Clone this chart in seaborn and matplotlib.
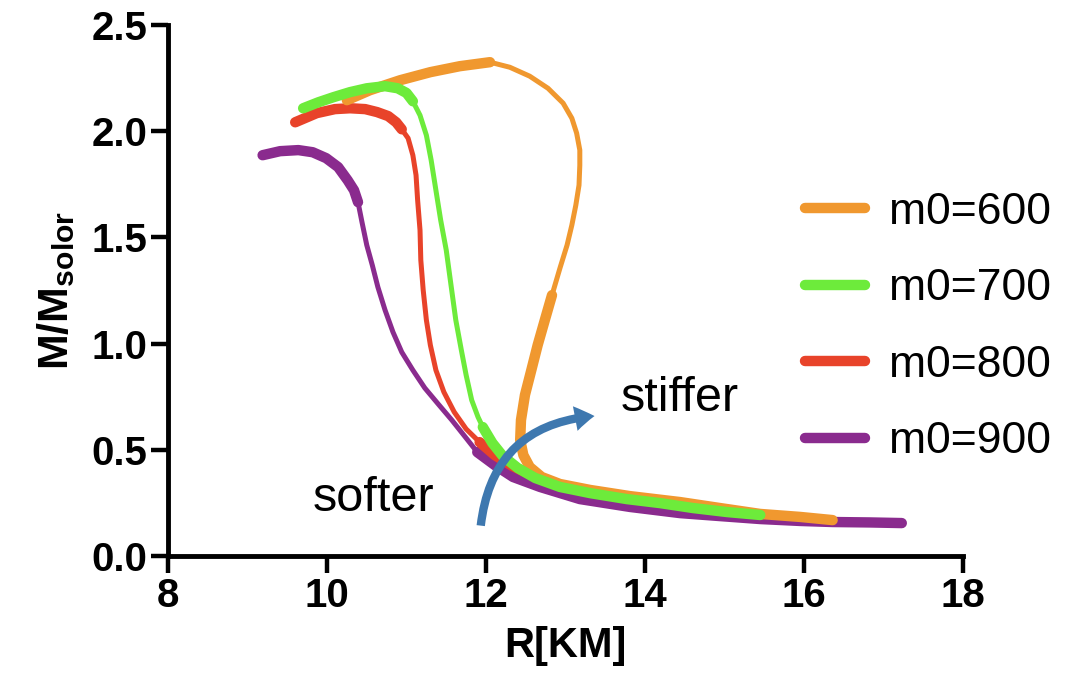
import numpy as np
import pandas as pd
import seaborn as sns
import matplotlib
matplotlib.use("Agg")
import matplotlib.pyplot as plt
from matplotlib.lines import Line2D
from matplotlib.patches import FancyArrowPatch

sns.set_theme(style="ticks")
plt.rcParams['font.family'] = ['Liberation Sans', 'DejaVu Sans']
plt.rcParams['mathtext.fontset'] = 'custom'
plt.rcParams['mathtext.bf'] = 'Liberation Sans:bold'
plt.rcParams['mathtext.rm'] = 'Liberation Sans:bold'
for k in ['text.color', 'axes.labelcolor', 'xtick.color', 'ytick.color', 'axes.edgecolor']:
    plt.rcParams[k] = 'black'

# ---- data ----
labels = ["m0=600", "m0=700", "m0=800", "m0=900"]
colors = {"m0=600": "#F0982F", "m0=700": "#6DEB3B", "m0=800": "#E8432A", "m0=900": "#8A2B8E"}

# each series: three branches (upper thick, middle thin, lower thick)
orange_top_R = [10.25, 10.54, 10.92, 11.30, 11.67, 12.05]
orange_top_M = [2.146, 2.193, 2.24, 2.278, 2.306, 2.325]
orange_mid_R = [12.05, 12.30, 12.55, 12.78, 12.97, 13.08, 13.14, 13.18, 13.18, 13.17, 13.13, 13.08, 13.02, 12.93, 12.83]
orange_mid_M = [2.325, 2.301, 2.259, 2.202, 2.132, 2.061, 1.991, 1.911, 1.840, 1.746, 1.652, 1.558, 1.464, 1.355, 1.228]
orange_low_R = [12.83, 12.74, 12.65, 12.57, 12.49, 12.44, 12.43, 12.47, 12.55, 12.70, 12.93, 13.31, 13.81, 14.44, 14.94, 15.45, 15.95, 16.36]
orange_low_M = [1.228, 1.111, 0.993, 0.875, 0.758, 0.64, 0.546, 0.475, 0.419, 0.372, 0.339, 0.311, 0.282, 0.254, 0.226, 0.198, 0.184, 0.169]

green_top_R = [9.70, 9.89, 10.08, 10.29, 10.50, 10.73, 10.89, 11.00, 11.08]
green_top_M = [2.108, 2.136, 2.16, 2.184, 2.202, 2.212, 2.202, 2.18, 2.141]
green_mid_R = [11.08, 11.17, 11.25, 11.31, 11.37, 11.43, 11.50, 11.56, 11.62, 11.69, 11.75, 11.82, 11.90, 11.96]
green_mid_M = [2.141, 2.075, 1.981, 1.864, 1.722, 1.581, 1.44, 1.275, 1.111, 0.969, 0.852, 0.734, 0.654, 0.607]
green_low_R = [11.96, 12.08, 12.21, 12.40, 12.62, 12.93, 13.31, 13.77, 14.19, 14.60, 15.03, 15.45]
green_low_M = [0.607, 0.532, 0.471, 0.414, 0.367, 0.325, 0.296, 0.268, 0.249, 0.226, 0.207, 0.193]

red_top_R = [9.60, 9.87, 10.10, 10.29, 10.48, 10.63, 10.77, 10.87, 10.94]
red_top_M = [2.042, 2.085, 2.104, 2.108, 2.104, 2.09, 2.071, 2.042, 2.009]
red_mid_R = [10.94, 11.02, 11.08, 11.12, 11.14, 11.17, 11.18, 11.21, 11.25, 11.30, 11.37, 11.47, 11.60, 11.75, 11.92]
red_mid_M = [2.009, 1.967, 1.887, 1.793, 1.675, 1.534, 1.393, 1.252, 1.111, 0.993, 0.875, 0.772, 0.678, 0.598, 0.536]
red_low_R = [11.92, 12.11, 12.33, 12.62, 13.00, 13.43, 14.06]
red_low_M = [0.536, 0.475, 0.424, 0.372, 0.325, 0.292, 0.264]

purple_top_R = [9.19, 9.41, 9.64, 9.82, 9.99, 10.14, 10.26, 10.34, 10.39]
purple_top_M = [1.887, 1.906, 1.911, 1.901, 1.873, 1.831, 1.769, 1.722, 1.666]
purple_mid_R = [10.39, 10.44, 10.50, 10.57, 10.64, 10.73, 10.83, 10.94, 11.08, 11.23, 11.40, 11.57, 11.74, 11.89]
purple_mid_M = [1.666, 1.572, 1.464, 1.369, 1.266, 1.158, 1.054, 0.96, 0.875, 0.791, 0.715, 0.64, 0.56, 0.489]
purple_low_R = [11.89, 12.11, 12.34, 12.68, 13.18, 13.81, 14.44, 14.94, 15.45, 15.95, 16.36, 16.83, 17.23]
purple_low_M = [0.489, 0.428, 0.372, 0.325, 0.268, 0.231, 0.202, 0.188, 0.174, 0.165, 0.16, 0.158, 0.155]

series = {
    "m0=600": [(orange_top_R, orange_top_M, "thick"), (orange_mid_R, orange_mid_M, "thin"), (orange_low_R, orange_low_M, "thick")],
    "m0=700": [(green_top_R, green_top_M, "thick"), (green_mid_R, green_mid_M, "thin"), (green_low_R, green_low_M, "thick")],
    "m0=800": [(red_top_R, red_top_M, "thick"), (red_mid_R, red_mid_M, "thin"), (red_low_R, red_low_M, "thick")],
    "m0=900": [(purple_top_R, purple_top_M, "thick"), (purple_mid_R, purple_mid_M, "thin"), (purple_low_R, purple_low_M, "thick")],
}

rows = []
for lab, segs in series.items():
    for k, (r, m, w) in enumerate(segs):
        for i, (ri, mi) in enumerate(zip(r, m)):
            rows.append(dict(R=ri, M=mi, series=lab, seg=f"{lab}-{k}", width=w, order=i))
df = pd.DataFrame(rows)

fig = plt.figure(figsize=(10.84, 6.94), dpi=100)
ax = fig.add_axes([168/1084, 1-556/694, (963-168)/1084, (556-25)/694])

draw_order = ["m0=900", "m0=800", "m0=600", "m0=700"]
for z, lab in enumerate(draw_order):
    sub = df[df.series == lab]
    sns.lineplot(data=sub, x="R", y="M", units="seg", estimator=None, sort=False,
                 size="width", sizes={"thick": 7.5, "thin": 3.6},
                 color=colors[lab], legend=False, ax=ax, zorder=3 + z,
                 solid_capstyle="round", solid_joinstyle="round")

ax.set_xlim(8, 18)
ax.set_ylim(0, 2.5)
ax.set_xticks([8, 10, 12, 14, 16, 18])
ax.set_yticks([0.0, 0.5, 1.0, 1.5, 2.0, 2.5])
ax.set_yticklabels(["0.0", "0.5", "1.0", "1.5", "2.0", "2.5"])
for s in ["top", "right"]:
    ax.spines[s].set_visible(False)
for s in ["left", "bottom"]:
    ax.spines[s].set_linewidth(3.5)
    ax.spines[s].set_color("black")
ax.tick_params(axis="both", length=12, width=3.2, color="black", labelsize=29, pad=3)
for t in ax.get_xticklabels() + ax.get_yticklabels():
    t.set_fontweight("bold")
ax.set_xlabel("R[KM]", fontsize=30, fontweight="bold", labelpad=8)
ax.set_ylabel(r"$\mathbf{M/M_{solor}}$", fontsize=31, labelpad=10)
ax.grid(False)

# annotations
ax.text(13.69, 0.74, "stiffer", fontsize=35, ha="left", va="center")
ax.text(10.58, 0.27, "softer", fontsize=35, ha="center", va="center")
arrow = FancyArrowPatch((11.93, 0.13), (13.4, 0.66), connectionstyle="arc3,rad=-0.42",
                        arrowstyle="simple,head_length=14,head_width=18,tail_width=6",
                        color="#3E78AF", lw=0, zorder=10, mutation_scale=1)
ax.add_patch(arrow)

handles = [Line2D([0], [0], color=colors[l], lw=7.5, solid_capstyle="round") for l in labels]
fig.legend(handles, labels, loc="center left", bbox_to_anchor=(805/1084, 1-327/694),
           frameon=False, fontsize=32, handlelength=1.35, handletextpad=0.55,
           labelspacing=0.8, borderpad=0, borderaxespad=0)

fig.savefig("out.png", dpi=100)
